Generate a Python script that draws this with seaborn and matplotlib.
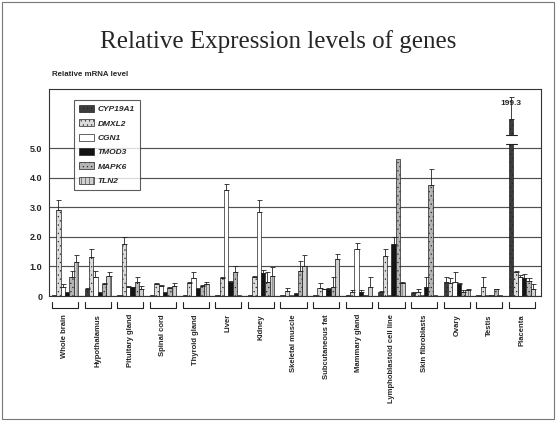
import numpy as np
import pandas as pd
import matplotlib
matplotlib.use("Agg")
import matplotlib.pyplot as plt
import seaborn as sns
from matplotlib.patches import Rectangle
from matplotlib.transforms import blended_transform_factory

# ---------------- data ----------------
tissues = ["Whole brain", "Hypothalamus", "Pituitary gland", "Spinal cord",
           "Thyroid gland", "Liver", "Kidney", "Skeletal muscle",
           "Subcutaneous fat", "Mammary gland", "Lymphoblastoid cell line",
           "Skin fibroblasts", "Ovary", "Testis", "Placenta"]
genes = ["CYP19A1", "DMXL2", "CGN1", "TMOD3", "MAPK6", "TLN2"]

cyp19a1 = [0.02, 0.22, 0.02, 0.02, 0.02, 0.02, 0.02, 0.02, 0.03, 0.02, 0.15, 0.10, 0.47, 0.02, 199.3]
cyp19a1_err = [0, 0.05, 0, 0, 0, 0, 0, 0, 0, 0, 0.03, 0.02, 0.18, 0, 8.0]
dmxl2 = [2.9, 1.33, 1.75, 0.4, 0.43, 0.6, 0.63, 0.18, 0.26, 0.15, 1.35, 0.15, 0.43, 0.3, 0.8]
dmxl2_err = [0.35, 0.27, 0.25, 0.03, 0.05, 0.05, 0.05, 0.08, 0.17, 0.05, 0.25, 0.08, 0.17, 0.33, 0.05]
cgn1 = [0.3, 0.63, 0.3, 0.33, 0.6, 3.6, 2.85, 0.05, 0.22, 1.6, 0.05, 0.05, 0.47, 0.02, 0.65]
cgn1_err = [0.1, 0.2, 0.03, 0.03, 0.22, 0.2, 0.4, 0, 0.02, 0.2, 0, 0, 0.35, 0, 0.05]
tmod3 = [0.15, 0.15, 0.3, 0.15, 0.27, 0.47, 0.77, 0.1, 0.25, 0.15, 1.75, 0.3, 0.4, 0.02, 0.6]
tmod3_err = [0, 0, 0.02, 0, 0, 0.05, 0.1, 0, 0.02, 0.05, 0.25, 0.35, 0.05, 0, 0.15]
mapk6 = [0.65, 0.4, 0.46, 0.27, 0.33, 0.8, 0.48, 0.85, 0.3, 0.05, 4.63, 3.75, 0.15, 0.22, 0.5]
mapk6_err = [0.18, 0.05, 0.17, 0.05, 0.05, 0.23, 0.34, 0.35, 0.35, 0, 0.79, 0.55, 0.05, 0.02, 0.1]
tln2 = [1.15, 0.69, 0.25, 0.33, 0.4, 0.03, 0.68, 1.0, 1.24, 0.3, 0.43, 0.02, 0.2, 0.02, 0.22]
tln2_err = [0.25, 0.12, 0.1, 0.1, 0.07, 0, 0.29, 0.38, 0.18, 0.33, 0.03, 0, 0.05, 0, 0.2]

values = {"CYP19A1": cyp19a1, "DMXL2": dmxl2, "CGN1": cgn1,
          "TMOD3": tmod3, "MAPK6": mapk6, "TLN2": tln2}
errors = {"CYP19A1": cyp19a1_err, "DMXL2": dmxl2_err, "CGN1": cgn1_err,
          "TMOD3": tmod3_err, "MAPK6": mapk6_err, "TLN2": tln2_err}

ytick_vals = [0, 1, 2, 3, 4, 5]
ytick_labels = ["0", "1.0", "2.0", "3.0", "4.0", "5.0"]

# broken y-scale: lower segment linear, upper segment compressed
LOW_END = 5.14       # lower segment shown up to here
UP_START_D = 5.46    # display position where upper segment starts
UP_START_V = 194.0   # true value at start of upper segment
UP_END_V = 210.0     # true value at top of axis
Y_TOP = 7.0

def to_display(v):
    v = np.asarray(v, dtype=float)
    k = (Y_TOP - UP_START_D) / (UP_END_V - UP_START_V)
    return np.where(v <= LOW_END, v, UP_START_D + (v - UP_START_V) * k)

rows = []
for g in genes:
    for t, v, e in zip(tissues, values[g], errors[g]):
        rows.append({"tissue": t, "gene": g, "value": v, "err": e,
                     "display": float(to_display(v))})
df = pd.DataFrame(rows)

# ---------------- styling ----------------
sns.set_style("white")
plt.rcParams["font.family"] = ["Liberation Sans", "DejaVu Sans"]
plt.rcParams["hatch.linewidth"] = 0.35

colors = {"CYP19A1": "#3c3c3c", "DMXL2": "#dcdcdc", "CGN1": "#ffffff",
          "TMOD3": "#141414", "MAPK6": "#b4b4b4", "TLN2": "#d0d0d0"}
hatches = {"CYP19A1": "....", "DMXL2": "....", "CGN1": "",
           "TMOD3": "", "MAPK6": "....", "TLN2": "||||"}

fig = plt.figure(figsize=(5.57, 4.21), dpi=100)
ax = fig.add_axes([49.3 / 557, 125 / 421, 491.4 / 557, 207 / 421])

sns.barplot(data=df, x="tissue", y="display", hue="gene", order=tissues,
            hue_order=genes, palette=colors, width=0.8, errorbar=None,
            edgecolor="#222222", linewidth=0.5, legend=False, ax=ax, zorder=2)

for g, cont in zip(genes, ax.containers):
    for bar, v, e in zip(cont.patches, values[g], errors[g]):
        bar.set_hatch(hatches[g])
        x = bar.get_x() + bar.get_width() / 2
        h = bar.get_height()
        top = float(to_display(v + e))
        if top - h > 0.01:
            ax.errorbar([x], [h], yerr=[[0], [top - h]], fmt="none",
                        ecolor="#222222", elinewidth=0.6, capsize=1.8,
                        capthick=0.6, zorder=3)
        if v > LOW_END:
            # axis break marks on the bar
            w = bar.get_width()
            ax.add_patch(Rectangle((x - w, LOW_END), 2 * w, UP_START_D - LOW_END,
                                   facecolor="white", edgecolor="none", zorder=4))
            for yb in (LOW_END, UP_START_D):
                ax.plot([x - 1.3 * w, x + 1.3 * w], [yb, yb], color="#222222",
                        lw=0.8, zorder=5)
            ax.text(x, top - 0.12, f"{v:.1f}", ha="center", va="top",
                    fontsize=6, fontweight="bold", zorder=6)

ax.set_ylim(0, Y_TOP)
ax.set_xlim(-0.48, 14.57)
ax.set_yticks(ytick_vals)
ax.set_yticklabels(ytick_labels, fontsize=6.5, fontweight="bold")
ax.yaxis.grid(True, color="#505050", lw=0.85)
ax.xaxis.grid(False)
ax.set_axisbelow(True)
ax.set_xlabel("")
ax.set_ylabel("")
ax.tick_params(axis="y", length=0, pad=5)
ax.set_xticks(range(len(tissues)))
ax.set_xticklabels(tissues, rotation=90, fontsize=5.5, fontweight="bold",
                   va="top", ha="center")
ax.tick_params(axis="x", length=0, pad=13)
for s in ax.spines.values():
    s.set_visible(True)
    s.set_color("#333333")
    s.set_linewidth(0.8)

# group brackets below the axis
trans = blended_transform_factory(ax.transData, ax.transAxes)
for i in range(len(tissues)):
    ax.plot([i - 0.4, i - 0.4, i + 0.4, i + 0.4], [-0.029, -0.058, -0.058, -0.029],
            color="#222222", lw=0.8, transform=trans, clip_on=False)

# legend
handles = [Rectangle((0, 0), 1, 1, facecolor=colors[g], edgecolor="#222222",
                     hatch=hatches[g], lw=0.5) for g in genes]
leg = ax.legend(handles, genes, loc="upper left", bbox_to_anchor=(0.051, 0.947),
                frameon=True, fancybox=False, edgecolor="#333333",
                prop={"size": 6, "weight": "bold", "style": "italic"},
                handlelength=1.8, handleheight=0.9, labelspacing=0.72,
                handletextpad=0.4, borderpad=0.6, borderaxespad=0)
leg.get_frame().set_linewidth(0.8)

# texts
fig.text(0.5, 1 - 42 / 421, "Relative Expression levels of genes",
         ha="center", va="center", fontsize=18, family="Liberation Serif")
fig.text(51.7 / 557, 1 - 75 / 421, "Relative mRNA level", ha="left", va="center",
         fontsize=5.7, fontweight="bold")

# outer frame
fig.add_artist(Rectangle((0.004, 0.005), 0.990, 0.990, transform=fig.transFigure,
                         fill=False, edgecolor="#777777", lw=0.8))

fig.savefig("out.png", dpi=100)
